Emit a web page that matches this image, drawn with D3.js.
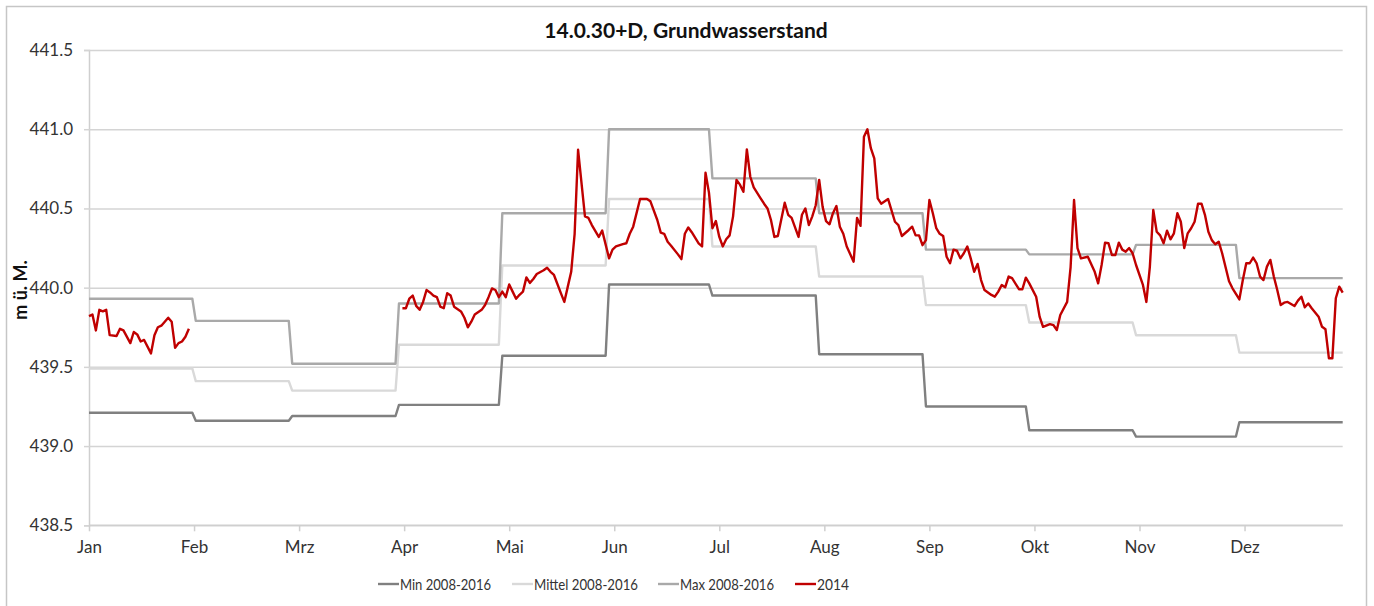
<!DOCTYPE html>
<html>
<head>
<meta charset="utf-8">
<script src="https://cdn.jsdelivr.net/npm/d3@7"></script>
<style>
  html, body { margin: 0; padding: 0; background: #fff; }
  svg { display: block; font-family: Lato, "Open Sans", sans-serif; }
</style>
</head>
<body>
<svg id="chart" width="1374" height="606"></svg>
<script>
// Data
// ----
const monthLabels = ["Jan", "Feb", "Mrz", "Apr", "Mai", "Jun", "Jul", "Aug", "Sep", "Okt", "Nov", "Dez"];
// first day (0-based day of year) of each month, and the axis tick positions (equally spaced)
const monthStartDays = [0, 31, 59, 90, 120, 151, 181, 212, 243, 273, 304, 334];
const lastDay = 364;
const monthTickDays = [0, 30.5, 61, 91.5, 122, 152.5, 183, 213.5, 244, 274.5, 305, 335.5];

const yTicks = [438.5, 439.0, 439.5, 440.0, 440.5, 441.0, 441.5];

// monthly statistics 2008-2016 (m ü. M.)
const minLevel    = [439.21, 439.16, 439.19, 439.26, 439.57, 440.02, 439.95, 439.58, 439.25, 439.10, 439.06, 439.15];
const meanLevel   = [439.49, 439.41, 439.35, 439.64, 440.14, 440.56, 440.26, 440.07, 439.89, 439.78, 439.70, 439.59];
const maxLevel    = [439.93, 439.79, 439.52, 439.90, 440.47, 441.00, 440.69, 440.47, 440.24, 440.21, 440.27, 440.06];

// 2014 daily readings [day of year, level]; no data in Feb/Mar
const level2014Jan = [
  [0, 439.82], [1, 439.83], [2, 439.73], [3, 439.86], [4, 439.85], [5, 439.86], [6, 439.70], [8, 439.695],
  [9, 439.74], [10, 439.73], [12, 439.65], [13, 439.72], [14, 439.705], [15, 439.66], [16, 439.67],
  [18, 439.585], [19, 439.70], [20, 439.75], [21, 439.76], [23, 439.81], [24, 439.785], [25, 439.62],
  [26, 439.65], [27, 439.66], [28, 439.69], [29, 439.74]
];
const level2014AprJun = [
  [91, 439.87], [92, 439.87], [93, 439.93], [94, 439.95], [95, 439.885], [96, 439.86], [97, 439.91],
  [98, 439.985], [99, 439.97], [100, 439.95], [101, 439.94], [102, 439.88], [103, 439.87], [104, 439.965],
  [105, 439.95], [106, 439.88], [108, 439.85], [109, 439.81], [110, 439.75], [111, 439.785], [112, 439.83],
  [114, 439.86], [115, 439.89], [116, 439.94], [117, 439.995], [118, 439.985], [119, 439.94], [120, 439.975],
  [121, 439.94], [122, 440.02], [123, 439.975], [124, 439.93], [125, 439.955], [126, 439.975], [127, 440.065],
  [128, 440.03], [129, 440.055], [130, 440.086], [132, 440.11], [133, 440.126], [134, 440.10], [135, 440.08],
  [137, 439.965], [138, 439.91], [139, 440.005], [140, 440.10], [141, 440.34], [142, 440.87], [144, 440.45],
  [145, 440.44], [146, 440.395], [148, 440.32], [149, 440.36], [151, 440.185], [152, 440.24], [153, 440.26],
  [155, 440.275], [156, 440.28], [157, 440.34], [158, 440.385], [160, 440.56], [162, 440.56], [163, 440.545],
  [165, 440.427], [166, 440.347], [167, 440.34], [168, 440.29], [169, 440.265], [171, 440.21], [172, 440.18],
  [173, 440.34], [174, 440.38], [175, 440.35], [177, 440.28], [178, 440.26], [179, 440.725], [180, 440.60]
];
const level2014JulSep = [
  [181, 440.375], [182, 440.42], [183, 440.32], [184, 440.26], [185, 440.305], [186, 440.33], [187, 440.45],
  [188, 440.68], [189, 440.65], [190, 440.605], [191, 440.873], [192, 440.70], [193, 440.633], [195, 440.564],
  [196, 440.53], [197, 440.50], [198, 440.427], [199, 440.32], [200, 440.326], [202, 440.536], [203, 440.46],
  [204, 440.44], [206, 440.32], [207, 440.46], [208, 440.50], [209, 440.395], [210, 440.45], [211, 440.52],
  [212, 440.68], [213, 440.51], [214, 440.42], [215, 440.40], [216, 440.47], [217, 440.515], [218, 440.385],
  [219, 440.34], [220, 440.26], [222, 440.164], [223, 440.44], [224, 440.39], [225, 440.953], [226, 441.00],
  [227, 440.88], [228, 440.816], [229, 440.564], [230, 440.53], [232, 440.56], [234, 440.416], [235, 440.395],
  [236, 440.326], [238, 440.364], [239, 440.385], [240, 440.33], [241, 440.33], [242, 440.268], [243, 440.30],
  [244, 440.553], [245, 440.47], [246, 440.375], [247, 440.34], [248, 440.326], [249, 440.195], [250, 440.154],
  [251, 440.24], [252, 440.233], [253, 440.185], [254, 440.217], [255, 440.26], [256, 440.185], [257, 440.10],
  [258, 440.15], [259, 440.048], [260, 439.985], [262, 439.954], [263, 439.943], [264, 439.975], [265, 440.017],
  [266, 440.002], [267, 440.07], [268, 440.06], [270, 439.99], [271, 439.99], [272, 440.063]
];
const level2014OktDez = [
  [273, 440.027], [275, 439.943], [276, 439.817], [277, 439.753], [279, 439.77], [280, 439.764], [281, 439.733],
  [282, 439.827], [284, 439.91], [285, 440.13], [286, 440.553], [287, 440.25], [288, 440.185], [290, 440.195],
  [292, 440.10], [293, 440.027], [294, 440.143], [295, 440.284], [296, 440.28], [297, 440.206], [298, 440.206],
  [299, 440.284], [300, 440.24], [301, 440.227], [302, 440.25], [303, 440.217], [304, 440.143], [306, 440.017],
  [307, 439.91], [308, 440.13], [309, 440.49], [310, 440.353], [311, 440.33], [312, 440.28], [313, 440.36],
  [314, 440.305], [315, 440.343], [316, 440.47], [317, 440.416], [318, 440.25], [319, 440.343], [320, 440.375],
  [321, 440.416], [322, 440.53], [323, 440.53], [324, 440.46], [325, 440.353], [326, 440.30], [327, 440.274],
  [328, 440.29], [329, 440.217], [331, 440.04], [332, 439.996], [334, 439.926], [335, 440.048], [336, 440.154],
  [337, 440.154], [338, 440.19], [339, 440.154], [340, 440.07], [341, 440.048], [342, 440.133], [343, 440.175],
  [344, 440.07], [345, 439.985], [346, 439.89], [347, 439.905], [348, 439.91], [350, 439.884], [351, 439.918],
  [352, 439.943], [353, 439.876], [354, 439.90], [355, 439.87], [357, 439.817], [358, 439.753], [359, 439.737],
  [360, 439.554], [361, 439.554], [362, 439.933], [363, 440.006], [364, 439.968]
];

const seriesNames = ["Min 2008-2016", "Mittel 2008-2016", "Max 2008-2016", "2014"];
const seriesColors = ["#808080", "#d9d9d9", "#a9a9a9", "#c00000"];

// Layout
// ------
const svg = d3.select("#chart");
const plot = { left: 89, right: 1342.7, top: 50, bottom: 525.3 };

const x = d3.scaleLinear().domain([0, lastDay]).range([plot.left, plot.right]);
const y = d3.scaleLinear().domain([438.5, 441.5]).range([plot.bottom, plot.top]);

// chart frame
svg.append("rect")
  .attr("x", 6.5).attr("y", 6.5)
  .attr("width", 1360).attr("height", 610)
  .attr("fill", "none").attr("stroke", "#c6c6c6").attr("stroke-width", 1.5);

// Title
svg.append("text")
  .attr("x", 686).attr("y", 38)
  .attr("text-anchor", "middle")
  .attr("font-size", 21).attr("font-weight", "bold").attr("fill", "#111")
  .text("14.0.30+D, Grundwasserstand");

// Gridlines + y axis
const yAxis = d3.axisLeft(y)
  .tickValues(yTicks)
  .tickFormat(d3.format(".1f"))
  .tickSize(5)
  .tickPadding(11);
const gy = svg.append("g").attr("transform", `translate(${plot.left},0)`).call(yAxis);
gy.select(".domain").attr("stroke", "#cfcfcf").attr("stroke-width", 1.5);
gy.selectAll(".tick line").attr("stroke", "#d4d4d4").attr("stroke-width", 1.5);
gy.selectAll(".tick text").attr("font-size", 17).attr("fill", "#333").attr("font-family", "Lato, sans-serif");
gy.selectAll(".tick").append("line")
  .attr("x1", 0).attr("x2", plot.right - plot.left)
  .attr("stroke", "#d4d4d4").attr("stroke-width", 1.5);

// x axis
const xAxis = d3.axisBottom(x)
  .tickValues(monthTickDays)
  .tickFormat((d, i) => monthLabels[i])
  .tickSize(6)
  .tickPadding(10);
const gx = svg.append("g").attr("transform", `translate(0,${plot.bottom})`).call(xAxis);
gx.select(".domain").attr("stroke", "#cfcfcf").attr("stroke-width", 1.5).attr("d", `M${plot.left},0H${plot.right}`);
gx.selectAll(".tick line").attr("stroke", "#cfcfcf").attr("stroke-width", 1.5);
gx.selectAll(".tick text").attr("font-size", 17).attr("fill", "#333").attr("font-family", "Lato, sans-serif");

// y label
svg.append("text")
  .attr("transform", "translate(27,290) rotate(-90)")
  .attr("text-anchor", "middle")
  .attr("font-size", 18).attr("font-weight", "bold").attr("fill", "#111")
  .text("m ü. M.");

// Series
// ------
// monthly values drawn as a step line over the daily axis
function monthlySteps(values) {
  const pts = [];
  values.forEach((v, i) => {
    const start = monthStartDays[i];
    const end = i < 11 ? monthStartDays[i + 1] - 1 : lastDay;
    pts.push([start, v], [end, v]);
  });
  return pts;
}

const line = d3.line().x(d => x(d[0])).y(d => y(d[1]));

[minLevel, meanLevel, maxLevel].forEach((vals, i) => {
  svg.append("path")
    .datum(monthlySteps(vals))
    .attr("d", line)
    .attr("fill", "none")
    .attr("stroke", seriesColors[i])
    .attr("stroke-width", 2.4)
    .attr("stroke-linejoin", "round");
});

const level2014AprDez = level2014AprJun.concat(level2014JulSep, level2014OktDez);
[level2014Jan, level2014AprDez].forEach(seg => {
  svg.append("path")
    .datum(seg)
    .attr("d", line)
    .attr("fill", "none")
    .attr("stroke", seriesColors[3])
    .attr("stroke-width", 2.4)
    .attr("stroke-linejoin", "round");
});

// Legend
// ------
// narrow the legend labels to the width they take in the original (Calibri)
const legendX = [378, 512, 658, 795];
const legendTextW = [91, 104, 94, 32];
const legend = svg.append("g").attr("transform", "translate(0,584)");
seriesNames.forEach((name, i) => {
  legend.append("line")
    .attr("x1", legendX[i]).attr("x2", legendX[i] + 21)
    .attr("stroke", seriesColors[i]).attr("stroke-width", 2.4);
  legend.append("text")
    .attr("x", legendX[i] + 22).attr("dy", "0.35em")
    .attr("font-size", 16).attr("fill", "#333")
    .attr("textLength", legendTextW[i]).attr("lengthAdjust", "spacingAndGlyphs")
    .text(name);
});
</script>
</body>
</html>
